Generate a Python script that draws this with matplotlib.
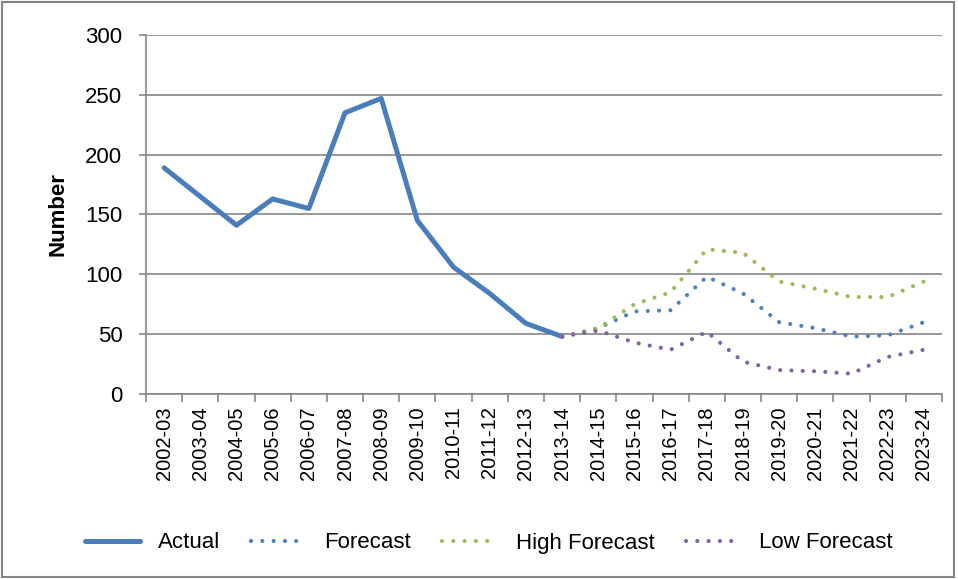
import matplotlib

matplotlib.use("Agg")
import matplotlib.pyplot as plt
from matplotlib.patches import Rectangle

# data
years = ["2002-03", "2003-04", "2004-05", "2005-06", "2006-07", "2007-08",
         "2008-09", "2009-10", "2010-11", "2011-12", "2012-13", "2013-14",
         "2014-15", "2015-16", "2016-17", "2017-18", "2018-19", "2019-20",
         "2020-21", "2021-22", "2022-23", "2023-24"]
actual = [189, 165, 141, 163, 155, 235, 247, 145, 106, 84, 59, 48]
forecast = [48, 55, 69, 70, 98, 84, 60, 55, 48, 49, 60]
high_forecast = [48, 55, 75, 85, 121, 118, 94, 88, 81, 81, 94]
low_forecast = [48, 53, 43, 37, 52, 27, 20, 19, 17, 31, 37]

plt.rcParams["font.family"] = ["Liberation Sans", "DejaVu Sans"]

fig = plt.figure(figsize=(9.58, 5.79), dpi=100)
ax = fig.add_axes([146 / 958, 1 - 394 / 579, 796 / 958, 359 / 579])

x_act = list(range(len(actual)))
x_fc = list(range(len(actual) - 1, len(years)))
dots = (0, (0.01, 2.7))

ax.plot(x_act, actual, color="#4A7EBB", lw=3.6, label="Actual",
        solid_joinstyle="round", solid_capstyle="round")
ax.plot(x_fc, forecast, color="#4F81BD", lw=3.0, ls=dots,
        dash_capstyle="round", label="Forecast")
ax.plot(x_fc, high_forecast, color="#9BBB59", lw=3.0, ls=dots,
        dash_capstyle="round", label="High Forecast")
ax.plot(x_fc, low_forecast, color="#8064A2", lw=3.0, ls=dots,
        dash_capstyle="round", label="Low Forecast")

# axes styling
ax.set_xlim(-0.5, len(years) - 0.5)
ax.set_ylim(0, 300)
ax.set_yticks(range(0, 301, 50))
ax.grid(axis="y", color="#868686", lw=1.2)
ax.set_axisbelow(True)
for side in ["top", "right"]:
    ax.spines[side].set_visible(False)
for side in ["left", "bottom"]:
    ax.spines[side].set_color("#868686")
    ax.spines[side].set_linewidth(1.2)

ax.set_xticks(range(len(years)))
ax.set_xticklabels(years, rotation=90, fontsize=14.5)
ax.tick_params(axis="x", length=0, pad=9)
ax.set_xticks([i - 0.5 for i in range(len(years) + 1)], minor=True)
ax.tick_params(axis="x", which="minor", length=6, color="#868686", width=1.2)
ax.tick_params(axis="y", labelsize=16, length=5, color="#868686", width=1.2, pad=12)

ax.set_ylabel("Number", fontsize=16, fontweight="bold", labelpad=12)

fig.legend(loc="center", bbox_to_anchor=(0.51, 1 - 543 / 579), ncol=4,
           frameon=False, fontsize=16, handlelength=2.5, columnspacing=1.4,
           handletextpad=0.8)

# chart border
fig.patches.append(Rectangle((0.002, 0.004), 0.994, 0.992, transform=fig.transFigure,
                             fill=False, edgecolor="#868686", lw=1.5))

plt.savefig("out.png", dpi=100)
